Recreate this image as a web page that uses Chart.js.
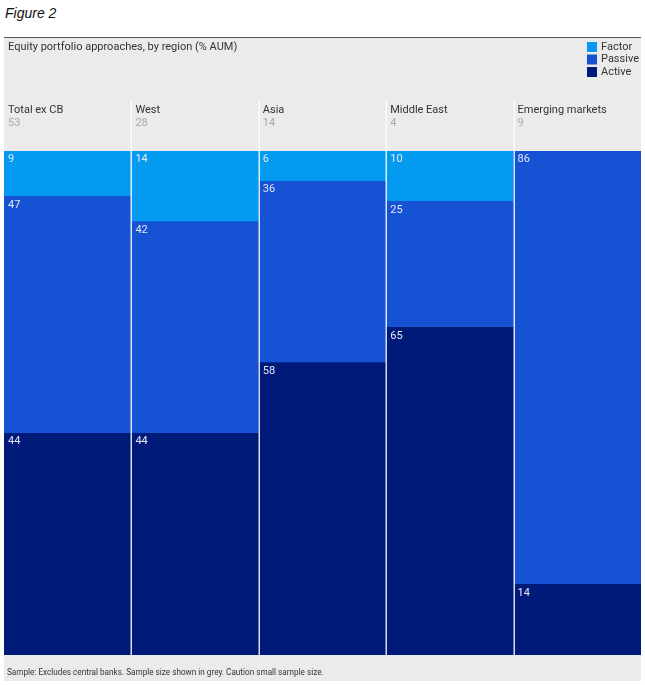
<!DOCTYPE html>
<html>
<head>
<meta charset="utf-8">
<script src="https://cdn.jsdelivr.net/npm/chart.js@4"></script>
<style>
  body { margin: 0; background: #fff; width: 645px; height: 685px; position: relative; overflow: hidden; }
  #fig { position: absolute; left: 5px; top: 5px; font: italic 14px "Liberation Sans", Arial, sans-serif; color: #111; }
  #panel { position: absolute; left: 4px; top: 37px; width: 637px; height: 643px; background: #ebebeb; border-top: 1px solid #555; }
  #wrap { position: relative; width: 637px; height: 642px; }
</style>
</head>
<body>
<div id="fig">Figure 2</div>
<div id="panel"><div id="wrap"><canvas id="chart"></canvas></div></div>
<script>
//Data
const regions = ['Total ex CB', 'West', 'Asia', 'Middle East', 'Emerging markets'];
const sampleSizes = [53, 28, 14, 4, 9];
const activeShare = [44, 44, 58, 65, 14];
const passiveShare = [47, 42, 36, 25, 86];
const factorShare = [9, 14, 6, 10, 0];

const chartTitle = 'Equity portfolio approaches, by region (% AUM)';
const footNote = 'Sample: Excludes central banks. Sample size shown in grey. Caution small sample size.';

const colors = {
    Factor: '#039af0',
    Passive: '#1652d4',
    Active: '#001a7a',
};

const FONT = 'Roboto, "Open Sans", sans-serif';

//Draws header, legend, column labels, value labels, separators and footnote
const decorations = {
    id: 'decorations',
    afterDatasetsDraw(chart) {
        const ctx = chart.ctx;
        const xScale = chart.scales.x;
        const area = chart.chartArea;
        const colW = xScale.getPixelForValue(1) - xScale.getPixelForValue(0);
        ctx.save();

        //value labels
        ctx.font = '11px ' + FONT;
        ctx.fillStyle = '#e4e8f4';
        ctx.textBaseline = 'top';
        ctx.textAlign = 'left';
        chart.data.datasets.forEach((ds, di) => {
            const meta = chart.getDatasetMeta(di);
            meta.data.forEach((bar, i) => {
                const v = ds.data[i];
                if (!v) return;
                const p = bar.getProps(['x', 'y', 'width']);
                ctx.fillText(String(v), p.x - p.width / 2 + 4, p.y + 3);
            });
        });

        //column separators
        ctx.strokeStyle = 'rgba(255,255,255,0.85)';
        ctx.lineWidth = 1.5;
        for (let i = 1; i < regions.length; i++) {
            const x = Math.round(xScale.getPixelForValue(i) - colW / 2) + 0.25;
            ctx.beginPath();
            ctx.moveTo(x, 62);
            ctx.lineTo(x, area.bottom);
            ctx.stroke();
        }

        //column headers and sample sizes
        ctx.textBaseline = 'middle';
        regions.forEach((r, i) => {
            const left = xScale.getPixelForValue(i) - colW / 2 + 4;
            ctx.fillStyle = '#333';
            ctx.font = '11px ' + FONT;
            ctx.fillText(r, left, 72);
            ctx.fillStyle = '#aaa';
            ctx.fillText(String(sampleSizes[i]), left, 85);
        });

        //title
        ctx.fillStyle = '#333';
        ctx.font = '11px ' + FONT;
        ctx.fillText(chartTitle, 4, 9);

        //legend (top to bottom: Factor, Passive, Active)
        const order = chart.data.datasets.slice().reverse();
        order.forEach((ds, k) => {
            const y = 9 + k * 12.5;
            ctx.fillStyle = ds.backgroundColor;
            ctx.fillRect(583, y - 5, 10, 10);
            ctx.fillStyle = '#333';
            ctx.font = '11px ' + FONT;
            ctx.fillText(ds.label, 597, y);
        });

        //footnote
        ctx.font = '8.2px ' + FONT;
        ctx.fillStyle = '#333';
        ctx.fillText(footNote, 3, 635);

        ctx.restore();
    }
};

const approachChart = new Chart(document.getElementById('chart'), {
    type: 'bar',
    data: {
        labels: regions,
        datasets: [
            { label: 'Active', data: activeShare, backgroundColor: colors.Active },
            { label: 'Passive', data: passiveShare, backgroundColor: colors.Passive },
            { label: 'Factor', data: factorShare, backgroundColor: colors.Factor },
        ]
    },
    options: {
        responsive: true,
        maintainAspectRatio: false,
        animation: false,
        layout: { padding: { top: 113, bottom: 25, left: 0, right: 0 } },
        datasets: { bar: { categoryPercentage: 1, barPercentage: 1, borderWidth: 0 } },
        scales: {
            x: { stacked: true, display: false },
            y: { stacked: true, display: false, min: 0, max: 100 },
        },
        plugins: {
            legend: { display: false },
            tooltip: { enabled: false },
        },
    },
    plugins: [decorations],
});
</script>
</body>
</html>
